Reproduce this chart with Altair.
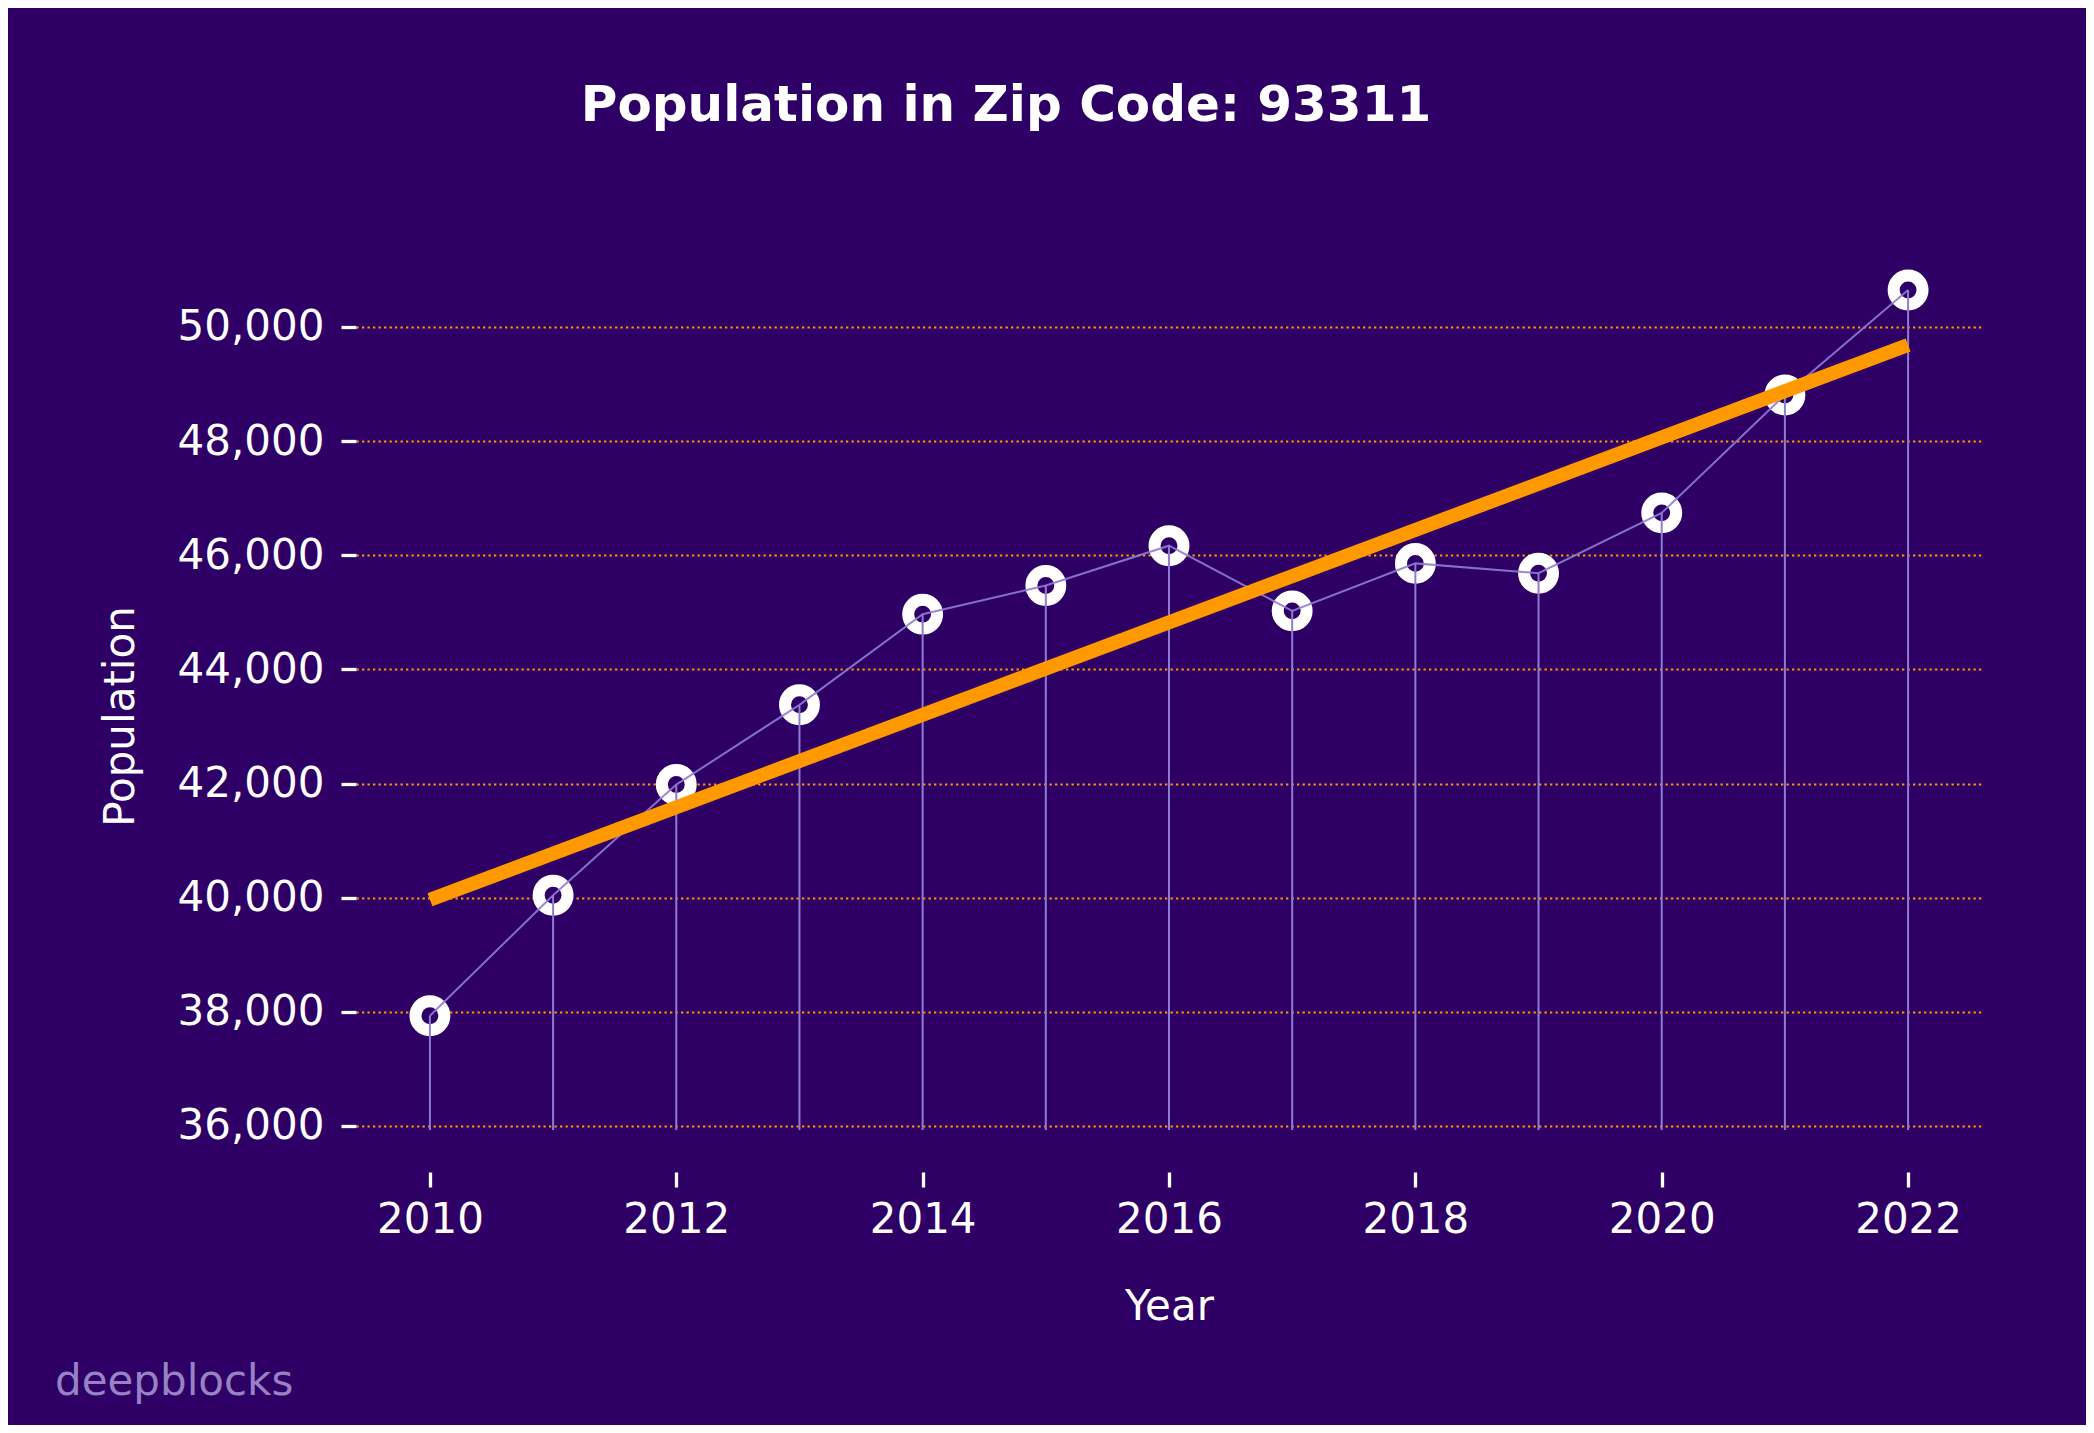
import altair as alt
import pandas as pd

years = [2010, 2011, 2012, 2013, 2014, 2015, 2016, 2017, 2018, 2019, 2020, 2021, 2022]
population = [37932, 40042, 41983, 43380, 44968, 45471, 46168, 45026, 45858, 45685, 46743, 48809, 50648]
stem_base = 35930
x_ticks = [2010, 2012, 2014, 2016, 2018, 2020, 2022]
y_ticks = [36000, 38000, 40000, 42000, 44000, 46000, 48000, 50000]
title_text = "Population in Zip Code: 93311"
watermark = ["deepblocks"]

BG = "#2E0066"
LAV = "#8E7CD4"
ORANGE = "#FF9900"
FONT = "DejaVu Sans"

df = pd.DataFrame({"Year": years, "Population": population, "Base": [stem_base] * len(years)})

xs = alt.Scale(domain=[2009.4, 2022.6], nice=False, zero=False)
ys = alt.Scale(domain=[35194, 51384], nice=False, zero=False)

x_axis = alt.Axis(
    values=x_ticks, format="d", grid=False, domain=False,
    tickColor="white", tickWidth=3.3, tickSize=15,
    labelColor="white", labelFont=FONT, labelFontSize=42, labelPadding=12,
    title="Year", titleColor="white", titleFont=FONT, titleFontSize=42,
    titleFontWeight="normal", titleX=813, titleY=147,
    titleBaseline="alphabetic", titleAlign="center",
)
y_axis = alt.Axis(
    values=y_ticks, format=",d", grid=True, domain=False,
    gridColor=ORANGE, gridWidth=2, gridDash=[2.3, 3.2],
    tickColor="white", tickWidth=3.3, tickSize=15,
    labelColor="white", labelFont=FONT, labelFontSize=42, labelPadding=17,
    title="Population", titleColor="white", titleFont=FONT, titleFontSize=42,
    titleFontWeight="normal", titleX=-223, titleY=468, titleAngle=-90,
    titleBaseline="alphabetic", titleAlign="center",
)

base = alt.Chart(df)

points = base.mark_point(
    shape="circle", filled=False, fill=BG, fillOpacity=1,
    stroke="white", strokeWidth=12, size=835, opacity=1,
).encode(
    x=alt.X("Year:Q", scale=xs, axis=x_axis),
    y=alt.Y("Population:Q", scale=ys, axis=y_axis),
)

line = base.mark_line(color=LAV, strokeWidth=2, opacity=0.9).encode(
    x=alt.X("Year:Q", scale=xs),
    y=alt.Y("Population:Q", scale=ys),
)

stems = base.mark_rule(color=LAV, strokeWidth=2).encode(
    x=alt.X("Year:Q", scale=xs),
    y=alt.Y("Population:Q", scale=ys),
    y2="Base:Q",
)

trend = base.transform_regression("Year", "Population").mark_line(
    color=ORANGE, strokeWidth=14, strokeCap="butt"
).encode(
    x=alt.X("Year:Q", scale=xs),
    y=alt.Y("Population:Q", scale=ys),
)

wm = alt.Chart(pd.DataFrame({"t": watermark})).mark_text(
    align="left", baseline="alphabetic", font=FONT, fontSize=42, color="#9682C4"
).encode(x=alt.value(-301), y=alt.value(1147), text="t:N")

chart = alt.layer(points, line, stems, trend, wm).properties(
    width=1626,
    height=924,
    background=BG,
    padding={"left": 348, "top": 240, "right": 104, "bottom": 253},
    autosize=alt.AutoSizeParams(type="none"),
    title=alt.TitleParams(
        text=title_text, font=FONT, fontSize=50, fontWeight="bold", color="white",
        anchor="middle", dx=-163, offset=77, baseline="alphabetic",
    ),
).configure_view(stroke=None)

chart.save("out.html", embed_options={"renderer": "svg", "actions": False})
